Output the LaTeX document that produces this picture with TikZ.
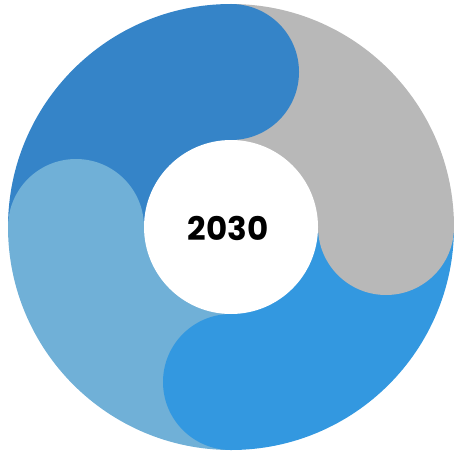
\documentclass[tikz,border=0pt]{standalone}
\usepackage{fontspec}
\setmainfont{Poppins}
\definecolor{ringdark}{HTML}{3584C8}
\definecolor{ringgray}{HTML}{B8B8B8}
\definecolor{ringbright}{HTML}{3398E0}
\definecolor{ringlight}{HTML}{70B0D7}

\begin{document}
\begin{tikzpicture}[x=1pt,y=1pt,
  wedge/.style={fill=#1,draw=none},
  cap/.style={fill=#1,draw=none}]

\useasboundingbox (0,0) rectangle (454,451);

\fill[wedge=ringdark] (231,224) -- ++(180:223) arc[start angle=180,end angle=90,radius=223] -- cycle;
\fill[wedge=ringgray] (231,224) -- ++(90:223) arc[start angle=90,end angle=0,radius=223] -- cycle;
\fill[wedge=ringbright] (231,224) -- ++(0:223) arc[start angle=0,end angle=-90,radius=223] -- cycle;
\fill[wedge=ringlight] (231,224) -- ++(270:223) arc[start angle=270,end angle=180,radius=223] -- cycle;

\fill[cap=ringdark] (231,379) circle[radius=68];
\fill[cap=ringgray] (386,224) circle[radius=68];
\fill[cap=ringbright] (231,69) circle[radius=68];
\fill[cap=ringlight] (76,224) circle[radius=68];

\fill[white] (231,224) circle[radius=87];
\node (year) at (228,223) {\fontsize{32.5}{32.5}\selectfont\bfseries 2030};

\end{tikzpicture}
\end{document}
